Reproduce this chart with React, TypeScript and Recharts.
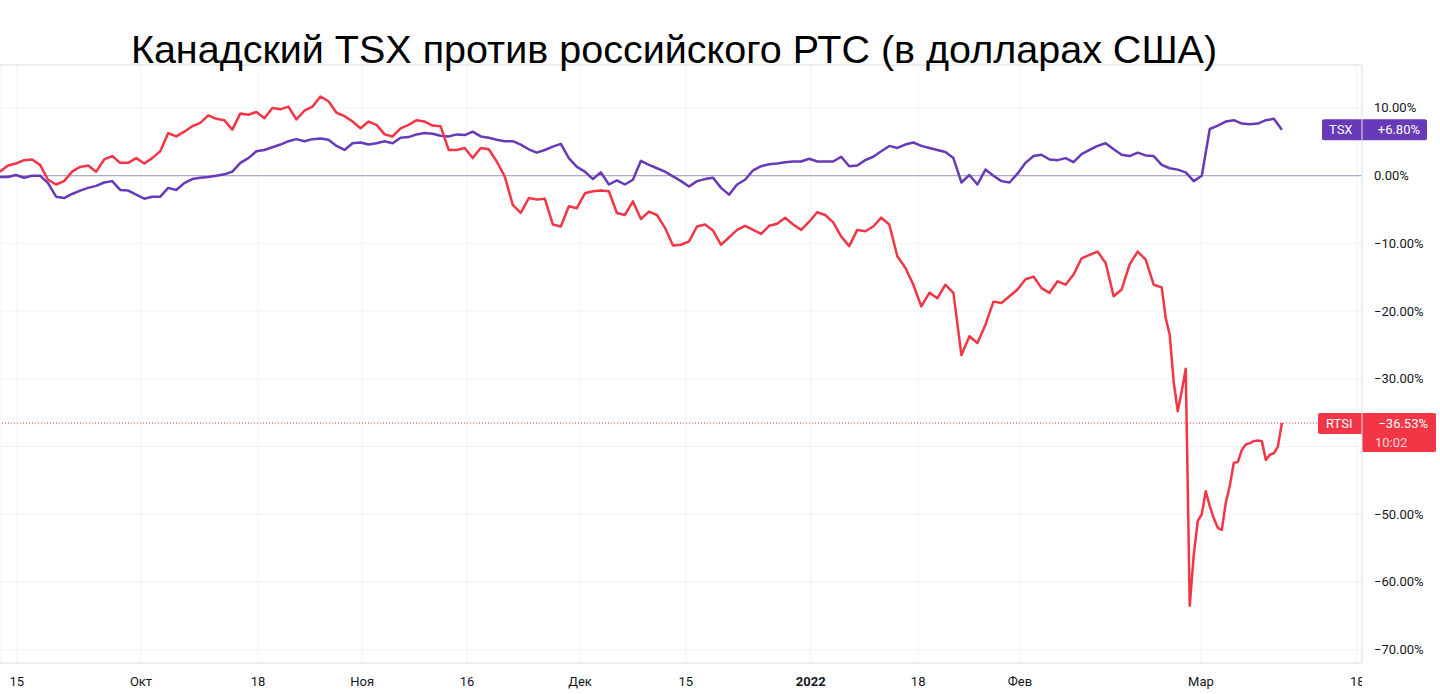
import React from 'react';
import { LineChart, Line, XAxis, YAxis, CartesianGrid, ReferenceLine } from 'recharts';

// TSX in USD, % change from the start, one value per bar (bars 0..160)
const TSX_VALUES = [
  -0.2, -0.2, 0.1, -0.3, 0.0, 0.0, -1.1, -3.1, -3.3, -2.7,
  -2.2, -1.8, -1.5, -1.0, -0.8, -2.1, -2.2, -2.8, -3.4, -3.1,
  -3.1, -1.8, -2.1, -1.1, -0.5, -0.3, -0.2, 0.0, 0.2, 0.6,
  1.9, 2.6, 3.6, 3.8, 4.2, 4.6, 5.1, 5.4, 5.1, 5.4,
  5.5, 5.3, 4.4, 3.8, 4.8, 4.9, 4.6, 4.8, 5.1, 4.8,
  5.6, 5.7, 6.1, 6.3, 6.2, 5.9, 5.8, 6.1, 6.0, 6.5,
  5.8, 5.6, 5.3, 5.1, 5.1, 4.6, 3.9, 3.4, 3.8, 4.3,
  4.7, 2.6, 1.3, 0.6, -0.5, 0.5, -1.3, -0.7, -1.3, -0.6,
  2.2, 1.6, 1.1, 0.6, -0.1, -0.8, -1.6, -0.8, -0.5, -0.3,
  -1.8, -2.8, -1.3, -0.6, 0.8, 1.4, 1.7, 1.8, 2.0, 2.1,
  2.1, 2.5, 2.1, 2.1, 2.1, 2.8, 1.4, 1.5, 2.3, 2.8,
  3.6, 4.4, 4.1, 4.6, 4.9, 4.4, 4.1, 3.8, 3.5, 2.6,
  -1.0, 0.1, -1.3, 0.9, 0.0, -0.8, -1.0, 0.3, 1.9, 2.9,
  3.1, 2.4, 2.3, 2.6, 2.0, 3.2, 3.8, 4.4, 4.8, 3.9,
  3.1, 2.9, 3.4, 3.0, 2.9, 1.6, 1.1, 0.9, 0.5, -0.8,
  0.0, 6.9, 7.4, 8.0, 8.2, 7.7, 7.6, 7.7, 8.2, 8.4, 6.8,
];

// RTSI in USD, % change, bars 0..144
const RTSI_DAILY = [
  0.6, 1.5, 1.8, 2.3, 2.4, 1.6, -0.6, -1.3, -0.8, 0.6,
  1.3, 1.5, 0.6, 2.4, 2.9, 1.9, 1.9, 2.6, 1.8, 2.6,
  3.6, 6.3, 5.8, 6.5, 7.3, 7.8, 8.9, 8.4, 8.2, 6.8,
  9.2, 9.0, 9.4, 8.5, 10.0, 9.8, 10.2, 8.3, 9.6, 10.2,
  11.7, 11.0, 9.3, 8.8, 8.0, 7.0, 8.0, 7.5, 6.1, 5.8,
  7.0, 7.5, 8.2, 8.0, 7.4, 7.3, 3.8, 3.8, 4.1, 2.6,
  4.1, 3.9, 2.1, -0.1, -4.3, -5.5, -3.3, -3.5, -3.4, -7.2,
  -7.5, -4.5, -4.8, -2.6, -2.3, -2.2, -2.3, -5.5, -5.8, -3.8,
  -6.4, -5.3, -5.8, -7.7, -10.3, -10.2, -9.7, -7.5, -7.2, -8.1,
  -10.2, -9.1, -8.0, -7.4, -8.0, -8.6, -7.4, -7.1, -6.2, -7.2,
  -8.0, -6.8, -5.4, -5.8, -6.9, -9.0, -10.4, -8.0, -8.2, -7.5,
  -6.2, -7.2, -11.9, -13.6, -16.1, -19.3, -17.3, -18.1, -16.1, -17.3,
  -26.5, -23.7, -24.7, -22.0, -18.6, -18.8, -17.8, -16.8, -15.3, -14.9,
  -16.6, -17.3, -15.6, -16.1, -14.6, -12.2, -11.7, -11.2, -12.9, -17.8,
  -16.8, -13.1, -11.2, -12.4, -16.1,
];

// RTSI late Feb / Mar, half-bar steps from bar 145 to 160
const RTSI_LATE_START = 145;
const RTSI_LATE = [
  -16.5, -21.0, -23.5, -30.5, -34.8, -31.8, -28.5, -63.5, -56.0, -51.0,
  -50.0, -46.6, -48.8, -50.6, -52.0, -52.3, -48.3, -45.8, -42.4, -42.3,
  -40.5, -39.7, -39.5, -39.2, -39.1, -39.2, -42.0, -41.2, -41.0, -40.0,
  -36.53,
];

const X_TICKS = [2.1, 17.6, 32.2, 45.2, 58.3, 72.4, 85.6, 101.2, 114.6, 127.3, 149.9, 169.4];
const X_LABELS = ['15', 'Окт', '18', 'Ноя', '16', 'Дек', '15', '2022', '18', 'Фев', 'Мар', '18'];
const Y_TICKS = [10, 0, -10, -20, -30, -40, -50, -60, -70];

const TSX_LAST = 6.8;
const RTSI_LAST = -36.53;
const RTSI_TIME = '10:02';

const TITLE = 'Канадский TSX против российского РТС (в долларах США)';

const TSX_COLOR = '#673ab7';
const RTSI_COLOR = '#f23645';
const GRID = '#f0f3fa';
const AXIS = '#e0e3eb';
const TEXT = '#131722';
const FONT = 'Roboto, "Noto Sans", sans-serif';

const W = 1440;
const H = 694;
const PLOT_TOP = 65;
const AXIS_W = 78;
const X_AXIS_H = 31;
const X_MAX = 170;
const Y_MIN = -71.97;
const Y_MAX = 16.35;
const PLOT_RIGHT = W - AXIS_W;

type Row = { x: number; tsx?: number; rtsi?: number };

function buildData(): Row[] {
  const rows = new Map<number, Row>();
  const get = (x: number) => {
    let r = rows.get(x);
    if (!r) {
      r = { x };
      rows.set(x, r);
    }
    return r;
  };
  TSX_VALUES.forEach((v, i) => (get(i).tsx = v));
  RTSI_DAILY.forEach((v, i) => (get(i).rtsi = v));
  RTSI_LATE.forEach((v, i) => (get(RTSI_LATE_START + i / 2).rtsi = v));
  return [...rows.values()].sort((a, b) => a.x - b.x);
}

const data = buildData();

const fmtPct = (v: number) => {
  const s = Math.abs(v).toFixed(2) + '%';
  if (v > 0) return '+' + s;
  if (v < 0) return '\u2212' + s;
  return s;
};

const XTick = (props: any) => {
  const { x, y, payload, index } = props;
  const i = X_TICKS.indexOf(payload.value);
  const label = X_LABELS[i];
  const id = `xclip-${index}`;
  return (
    <g>
      <defs>
        <clipPath id={id}>
          <rect x={0} y={0} width={PLOT_RIGHT} height={H} />
        </clipPath>
      </defs>
      <text
        x={x}
        y={y + 18}
        textAnchor="middle"
        dominantBaseline="central"
        fontSize={13}
        fontFamily={FONT}
        fontWeight={label === '2022' ? 700 : 400}
        fill={TEXT}
        clipPath={`url(#${id})`}
      >
        {label}
      </text>
    </g>
  );
};

const YTick = (props: any) => {
  const { x, y, payload } = props;
  // the RTSI badge sits over this label
  if (Math.abs(payload.value - RTSI_LAST) < 5) return <g />;
  const v = payload.value;
  const s = v === 0 ? '0.00%' : (v < 0 ? '\u2212' : '') + Math.abs(v).toFixed(2) + '%';
  return (
    <text x={x} y={y} textAnchor="start" dominantBaseline="central" fontSize={13} fontFamily={FONT} fill={TEXT}>
      {s}
    </text>
  );
};

const TsxBadge = (props: any) => {
  const { viewBox } = props;
  const right = viewBox.x + viewBox.width;
  const y = viewBox.y;
  return (
    <g>
      <rect x={right - 40} y={y - 10.5} width={105} height={21} rx={2} fill={TSX_COLOR} />
      <text x={right - 33} y={y} dominantBaseline="central" fontSize={13} fontFamily={FONT} fill="#fff">
        TSX
      </text>
      <text x={right + 58} y={y} textAnchor="end" dominantBaseline="central" fontSize={13} fontFamily={FONT} fill="#fff">
        {fmtPct(TSX_LAST)}
      </text>
    </g>
  );
};

const RtsiBadge = (props: any) => {
  const { viewBox } = props;
  const right = viewBox.x + viewBox.width;
  const y = viewBox.y;
  return (
    <g>
      <rect x={right - 44} y={y - 10} width={118} height={21} rx={2} fill={RTSI_COLOR} />
      <rect x={right} y={y + 5} width={74} height={24} rx={2} fill={RTSI_COLOR} />
      <text x={right - 36} y={y} dominantBaseline="central" fontSize={13} fontFamily={FONT} fill="#fff">
        RTSI
      </text>
      <text x={right + 66} y={y} textAnchor="end" dominantBaseline="central" fontSize={13} fontFamily={FONT} fill="#fff">
        {fmtPct(RTSI_LAST)}
      </text>
      <text x={right + 13} y={y + 19} dominantBaseline="central" fontSize={13} fontFamily={FONT} fill="#ffd5d8">
        {RTSI_TIME}
      </text>
    </g>
  );
};

export default function App() {
  return (
    <div style={{ position: 'fixed', left: 0, top: 0, width: W, height: H, background: '#fff' }}>
      <LineChart
        width={W}
        height={H}
        data={data}
        margin={{ top: PLOT_TOP, right: 0, bottom: 0, left: 0 }}
      >
        <CartesianGrid stroke={GRID} vertical horizontal />
        <XAxis
          dataKey="x"
          type="number"
          domain={[0, X_MAX]}
          ticks={X_TICKS}
          interval={0}
          height={X_AXIS_H}
          tickLine={false}
          tickSize={0}
          tickMargin={0}
          axisLine={{ stroke: AXIS }}
          tick={<XTick />}
          allowDataOverflow
        />
        <YAxis
          orientation="right"
          type="number"
          domain={[Y_MIN, Y_MAX]}
          ticks={Y_TICKS}
          interval={0}
          width={AXIS_W}
          tickLine={false}
          tickSize={0}
          tickMargin={12}
          axisLine={{ stroke: AXIS }}
          tick={<YTick />}
          allowDataOverflow
        />
        <ReferenceLine y={Y_MAX} stroke={AXIS} />
        <ReferenceLine y={0} stroke="#9e9bb8" strokeWidth={1} />
        <ReferenceLine y={RTSI_LAST} stroke={RTSI_COLOR} strokeDasharray="1 2" />
        <Line
          type="linear"
          dataKey="tsx"
          stroke={TSX_COLOR}
          strokeWidth={2.5}
          strokeLinejoin="round"
          dot={false}
          connectNulls
          isAnimationActive={false}
        />
        <Line
          type="linear"
          dataKey="rtsi"
          stroke={RTSI_COLOR}
          strokeWidth={2.5}
          strokeLinejoin="round"
          dot={false}
          connectNulls
          isAnimationActive={false}
        />
        <ReferenceLine y={TSX_LAST} stroke="none" label={<TsxBadge />} />
        <ReferenceLine y={RTSI_LAST} stroke="none" label={<RtsiBadge />} />
      </LineChart>
      <svg width={W} height={90} style={{ position: 'absolute', left: 0, top: 0, pointerEvents: 'none' }}>
        <text
          x={674}
          y={63}
          textAnchor="middle"
          fontSize={39.5}
          fontFamily='"Liberation Sans", Arial, sans-serif'
          fill="#000"
        >
          {TITLE}
        </text>
      </svg>
    </div>
  );
}
